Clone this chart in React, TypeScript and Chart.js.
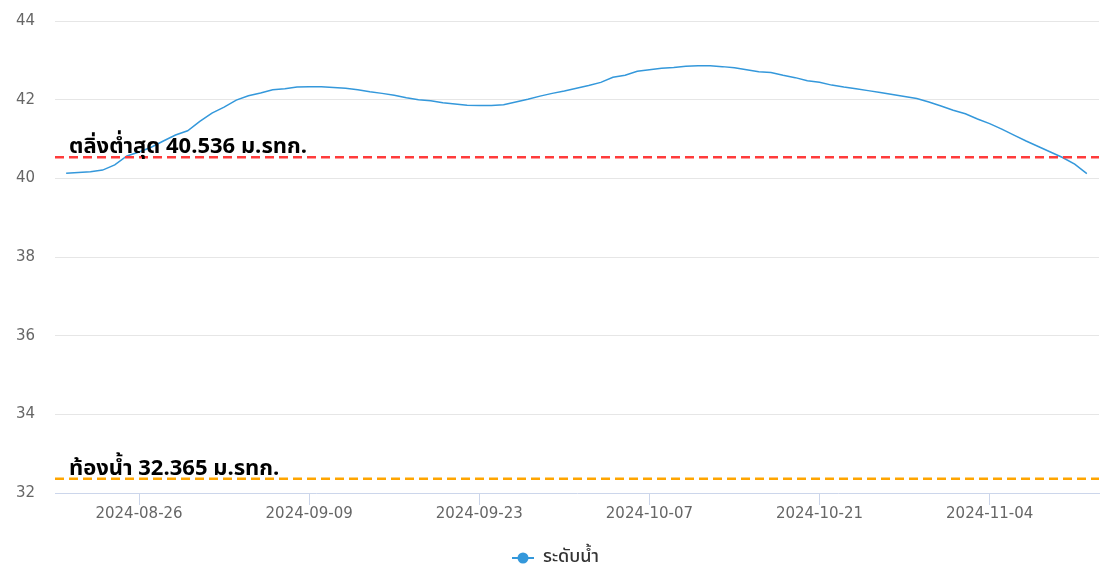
import React, { useEffect, useRef } from "react";
import { Chart, registerables } from "chart.js";

Chart.register(...registerables);

const BASE_DATE = "2024-08-20";
const AXIS_START = "2024-08-19T02:00:00Z";
const AXIS_END = "2024-11-13T00:00:00Z";

const DATES: string[] = [
  "2024-08-20", "2024-08-21", "2024-08-22", "2024-08-23", "2024-08-24", "2024-08-25", "2024-08-26",
  "2024-08-27", "2024-08-28", "2024-08-29", "2024-08-30", "2024-08-31", "2024-09-01", "2024-09-02",
  "2024-09-03", "2024-09-04", "2024-09-05", "2024-09-06", "2024-09-07", "2024-09-08", "2024-09-09",
  "2024-09-10", "2024-09-11", "2024-09-12", "2024-09-13", "2024-09-14", "2024-09-15", "2024-09-16",
  "2024-09-17", "2024-09-18", "2024-09-19", "2024-09-20", "2024-09-21", "2024-09-22", "2024-09-23",
  "2024-09-24", "2024-09-25", "2024-09-26", "2024-09-27", "2024-09-28", "2024-09-29", "2024-09-30",
  "2024-10-01", "2024-10-02", "2024-10-03", "2024-10-04", "2024-10-05", "2024-10-06", "2024-10-07",
  "2024-10-08", "2024-10-09", "2024-10-10", "2024-10-11", "2024-10-12", "2024-10-13", "2024-10-14",
  "2024-10-15", "2024-10-16", "2024-10-17", "2024-10-18", "2024-10-19", "2024-10-20", "2024-10-21",
  "2024-10-22", "2024-10-23", "2024-10-24", "2024-10-25", "2024-10-26", "2024-10-27", "2024-10-28",
  "2024-10-29", "2024-10-30", "2024-10-31", "2024-11-01", "2024-11-02", "2024-11-03", "2024-11-04",
  "2024-11-05", "2024-11-06", "2024-11-07", "2024-11-08", "2024-11-09", "2024-11-10", "2024-11-11",
  "2024-11-12",
];

const LEVELS: number[] = [
  40.13, 40.15, 40.17, 40.21, 40.34, 40.57, 40.67,
  40.79, 40.95, 41.10, 41.21, 41.45, 41.66, 41.81,
  41.99, 42.10, 42.17, 42.25, 42.28, 42.32, 42.33,
  42.33, 42.31, 42.29, 42.25, 42.20, 42.16, 42.11,
  42.05, 42.00, 41.97, 41.92, 41.89, 41.86, 41.85,
  41.85, 41.87, 41.94, 42.01, 42.09, 42.16, 42.22,
  42.29, 42.36, 42.44, 42.57, 42.62, 42.72, 42.76,
  42.80, 42.82, 42.85, 42.86, 42.86, 42.84, 42.81,
  42.76, 42.71, 42.69, 42.62, 42.56, 42.48, 42.44,
  42.37, 42.32, 42.28, 42.23, 42.18, 42.13, 42.08,
  42.03, 41.94, 41.84, 41.73, 41.64, 41.51, 41.39,
  41.25, 41.10, 40.95, 40.81, 40.67, 40.53, 40.36,
  40.12,
];

const TICK_DATES: string[] = ["2024-08-26", "2024-09-09", "2024-09-23", "2024-10-07", "2024-10-21", "2024-11-04"];

const Y_MIN = 32;
const Y_MAX = 44;
const Y_STEP = 2;

const SERIES_NAME = "ระดับน้ำ";
const REF_VALUES: number[] = [40.536, 32.365];
const REF_LABELS: string[] = ["ตลิ่งต่ำสุด 40.536 ม.รทก.", "ท้องน้ำ 32.365 ม.รทก."];
const REF_COLORS: string[] = ["#ff3b3b", "#ffa500"];

const DAY_MS = 86400000;
const baseMs = Date.parse(BASE_DATE + "T00:00:00Z");
const toDay = (s: string) => (Date.parse(s.length > 10 ? s : s + "T00:00:00Z") - baseMs) / DAY_MS;
const fromDay = (d: number) => new Date(baseMs + Math.round(d * DAY_MS)).toISOString().slice(0, 10);

const LINE_COLOR = "#3498db";
const AXIS_COLOR = "#ccd6eb";
const GRID_COLOR = "#e6e6e6";
const THAI_FONT = "'Noto Sans Thai', 'Noto Sans', 'DejaVu Sans', sans-serif";

function makeLegendMarker(): HTMLCanvasElement {
  const c = document.createElement("canvas");
  c.width = 22;
  c.height = 14;
  const g = c.getContext("2d")!;
  g.strokeStyle = LINE_COLOR;
  g.lineWidth = 2;
  g.beginPath();
  g.moveTo(0, 7);
  g.lineTo(22, 7);
  g.stroke();
  g.fillStyle = LINE_COLOR;
  g.beginPath();
  g.arc(11, 7, 5.5, 0, Math.PI * 2);
  g.fill();
  return c;
}

const refLinesPlugin = {
  id: "refLines",
  afterDatasetsDraw(chart: any) {
    const { ctx, chartArea, scales } = chart;
    const y = scales.y;
    ctx.save();
    REF_VALUES.forEach((v, i) => {
      const py = y.getPixelForValue(v);
      ctx.strokeStyle = REF_COLORS[i];
      ctx.lineWidth = 2.5;
      ctx.setLineDash([9, 5]);
      ctx.beginPath();
      ctx.moveTo(chartArea.left, py);
      ctx.lineTo(chartArea.right, py);
      ctx.stroke();
      ctx.setLineDash([]);
      ctx.fillStyle = "#000000";
      ctx.font = "bold 22px " + THAI_FONT;
      ctx.textAlign = "left";
      ctx.textBaseline = "alphabetic";
      ctx.fillText(REF_LABELS[i], chartArea.left + 14, py - 4);
    });
    ctx.restore();
  },
};

export default function App() {
  const ref = useRef<HTMLCanvasElement | null>(null);

  useEffect(() => {
    if (!ref.current) return;
    const points = DATES.map((d, i) => ({ x: toDay(d), y: LEVELS[i] }));
    const tickDays = TICK_DATES.map(toDay);
    const chart = new Chart(ref.current, {
      type: "line",
      data: {
        datasets: [
          {
            label: SERIES_NAME,
            data: points,
            borderColor: LINE_COLOR,
            backgroundColor: LINE_COLOR,
            borderWidth: 1.5,
            pointRadius: 0,
            tension: 0,
            fill: false,
          },
        ],
      },
      options: {
        animation: false,
        responsive: true,
        maintainAspectRatio: false,
        layout: { padding: { top: 21, right: 12, left: 12, bottom: 0 } },
        scales: {
          x: {
            type: "linear",
            min: toDay(AXIS_START),
            max: toDay(AXIS_END),
            afterBuildTicks: (scale: any) => {
              scale.ticks = tickDays.map((v) => ({ value: v }));
            },
            afterFit: (scale: any) => {
              scale.height = 46;
            },
            grid: {
              drawOnChartArea: false,
              drawTicks: true,
              tickLength: 12,
              tickColor: AXIS_COLOR,
              color: AXIS_COLOR,
            },
            border: { display: true, color: AXIS_COLOR, width: 1, z: 1 },
            ticks: {
              autoSkip: false,
              maxRotation: 0,
              padding: 0,
              color: "#666666",
              font: { family: "'DejaVu Sans', sans-serif", size: 15 },
              callback: (v: any) => fromDay(Number(v)),
            },
          },
          y: {
            min: Y_MIN,
            max: Y_MAX,
            afterFit: (scale: any) => {
              scale.width = 43;
            },
            grid: {
              color: (c: any) => (c.tick && c.tick.value === Y_MIN ? "rgba(0,0,0,0)" : GRID_COLOR),
              lineWidth: 1,
              drawTicks: true,
              tickLength: 20,
              tickColor: "rgba(0,0,0,0)",
            },
            border: { display: false },
            ticks: {
              stepSize: Y_STEP,
              padding: 0,
              color: "#666666",
              font: { family: "'DejaVu Sans', sans-serif", size: 15 },
            },
          },
        },
        plugins: {
          legend: {
            position: "bottom",
            maxHeight: 32,
            labels: {
              usePointStyle: true,
              pointStyle: makeLegendMarker() as any,
              pointStyleWidth: 22,
              padding: 10,
              color: "#333333",
              font: { family: THAI_FONT, size: 18, weight: "500" },
            },
          },
          tooltip: { enabled: false },
        },
      },
      plugins: [refLinesPlugin],
    });
    return () => chart.destroy();
  }, []);

  return (
    <div style={{ position: "absolute", left: 0, top: 0, width: 1111, height: 571 }}>
      <canvas ref={ref} />
    </div>
  );
}
